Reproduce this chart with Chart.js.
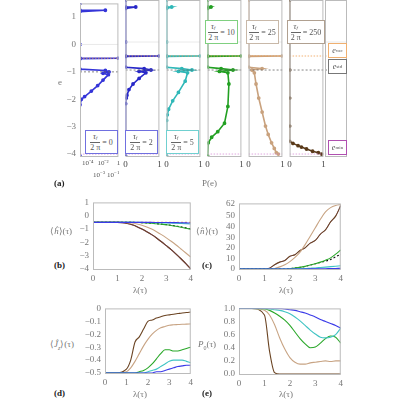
<!DOCTYPE html>
<html><head><meta charset="utf-8">
<script src="https://cdn.jsdelivr.net/npm/chart.js@4"></script>
<style>
body{margin:0;width:400px;height:400px;background:#fff;position:relative;overflow:hidden;font-family:"Liberation Serif",serif}
canvas{position:absolute}
.t{position:absolute;font-size:9px;color:#777;white-space:nowrap}
.b{position:absolute;font-weight:bold;font-size:9px;color:#222}
.box{position:absolute;border:1px solid;background:#fff;font-size:8px;color:#555;display:flex;align-items:center;justify-content:center;white-space:nowrap}
.fr{display:inline-block;text-align:center;line-height:9px;margin-right:2px;font-style:italic}
.fr .n{display:block;border-bottom:1px solid #666;padding:0 1px}
.fr .d{display:block;font-style:normal}
</style></head><body>
<script>
// ---- panel (a): energy distributions P(e) ----
const colNames = ['0', '2', '5', '10', '25', '250'];
const colColors = ['#3535d8', '#2828c8', '#30b8b8', '#22a022', '#c9a27e', '#5a3a1a'];
const colE = [
  [1.5, 1.25, 1.25, 1.2, 0.0, -0.5, -0.5, -0.52, -0.9, -0.95, -1.0, -1.05, -1.1, -1.3, -1.5, -1.7, -1.9, -2.0, -2.2, -4.07],
  [1.5, 1.25, 1.25, 1.2, 0.0, -0.5, -0.5, -0.52, -0.9, -0.95, -1.0, -1.05, -1.1, -1.3, -1.5, -1.7, -1.9, -2.0, -2.2, -4.07],
  [1.5, 1.25, 1.25, 1.2, 0.0, -0.5, -0.5, -0.52, -0.9, -0.95, -1.0, -1.05, -1.1, -1.4, -1.8, -2.1, -2.4, -2.6, -2.8, -4.07],
  [1.5, 1.25, 1.25, 1.2, 0.0, -0.5, -0.5, -0.52, -0.9, -0.95, -1.0, -1.05, -1.1, -1.5, -2.3, -2.9, -3.2, -3.4, -3.6, -4.07],
  [1.5, 0.0, -0.5, -0.5, -0.52, -0.9, -0.95, -1.0, -1.1, -1.5, -2.0, -2.5, -3.0, -3.3, -3.6, -3.8, -3.95, -4.0],
  [1.5, 0.0, -1.0, -2.0, -3.0, -3.55, -3.62, -3.7, -3.75, -3.82, -3.9, -3.95, -4.0]
];
const colP = [
  [1e-5, 1e-5, 0.02, 1e-5, 1e-5, 1e-5, 1, 1e-5, 1e-5, 0.02, 0.06, 0.01, 0.05, 0.01, 2e-3, 3e-4, 4e-5, 1.5e-5, 1e-5, 1e-5],
  [0, 0, 0.3, 0, 0, 0, 1, 0, 0, 0.55, 0.75, 0.4, 0.6, 0.4, 0.22, 0.1, 0.04, 0.02, 0, 0],
  [0, 0, 0.15, 0, 0, 0, 1, 0, 0, 0.45, 0.75, 0.35, 0.62, 0.55, 0.35, 0.18, 0.06, 0.02, 0, 0],
  [0, 0, 0.1, 0, 0, 0, 1, 0, 0, 0.4, 0.75, 0.35, 0.6, 0.63, 0.6, 0.5, 0.3, 0.12, 0.02, 0],
  [0, 0, 0, 1, 0, 0, 0.4, 0.1, 0.17, 0.22, 0.3, 0.4, 0.5, 0.58, 0.68, 0.76, 0.82, 0.88],
  [0, 0, 0, 0, 0, 0, 0.1, 0.25, 0.35, 0.5, 0.68, 0.85, 0.95]
];
const eTicks = [1, 0, -1, -2, -3, -4];
const logTicks = [1e-4, 1e-2, 1];
const refE = { vac: -0.5, std: -1.0, min: -4.0, zero: 0 };

// ---- panels (b)-(e): vs lambda(tau) ----
const lam = [0, 0.5, 1, 1.2, 1.4, 1.6, 1.8, 2, 2.2, 2.4, 2.6, 2.8, 3, 3.2, 3.4, 3.6, 3.8, 4];
const hPurple = [-0.5, -0.5, -0.5, -0.52, -0.58, -0.68, -0.82, -1.0, -1.2, -1.42, -1.67, -1.95, -2.25, -2.55, -2.88, -3.23, -3.6, -4.0];
const hTan = [-0.5, -0.5, -0.5, -0.5, -0.52, -0.55, -0.62, -0.72, -0.84, -1.0, -1.2, -1.42, -1.66, -1.92, -2.2, -2.5, -2.8, -3.1];
const hGreen = [-0.5, -0.5, -0.5, -0.5, -0.5, -0.5, -0.51, -0.52, -0.54, -0.57, -0.6, -0.64, -0.68, -0.73, -0.79, -0.86, -0.94, -1.03];
const hBlack = [-0.5, -0.5, -0.5, -0.5, -0.5, -0.5, -0.51, -0.52, -0.54, -0.56, -0.59, -0.63, -0.67, -0.72, -0.78, -0.84, -0.91, -0.99];
const hCyan = [-0.5, -0.5, -0.5, -0.5, -0.5, -0.5, -0.5, -0.5, -0.51, -0.51, -0.52, -0.53, -0.54, -0.55, -0.56, -0.58, -0.6, -0.62];
const hBlue = [-0.5, -0.5, -0.5, -0.5, -0.5, -0.5, -0.5, -0.5, -0.5, -0.5, -0.51, -0.51, -0.51, -0.52, -0.52, -0.53, -0.54, -0.55];
const hVac = [-0.5, -0.5, -0.5, -0.5, -0.5, -0.5, -0.5, -0.5, -0.5, -0.5, -0.5, -0.5, -0.5, -0.5, -0.5, -0.5, -0.5, -0.5];

const nPurple = [0, 0, 0, 0.8, 4, 6.5, 8, 12, 13.5, 17.5, 20, 24.5, 27, 33, 37, 44.5, 50, 60];
const nTan = [0, 0, 0, 0, 0.5, 2, 4, 7, 11, 16, 23, 31, 39, 47, 54, 58, 60, 61];
const nGreen = [0, 0, 0, 0, 0, 0, 0, 0.3, 0.8, 1.5, 2.5, 3.7, 5, 6.5, 8.3, 10.5, 14, 18];
const nBlack = [0, 0, 0, 0, 0, 0, 0, 0.3, 0.8, 1.5, 2.5, 3.7, 5, 6.2, 7.5, 9, 11.5, 14];
const nCyan = [0, 0, 0, 0, 0, 0, 0, 0, 0.1, 0.2, 0.4, 0.7, 1.0, 1.4, 1.8, 2.2, 2.6, 3];
const nBlue = [0, 0, 0, 0, 0, 0, 0, 0, 0, 0, 0.05, 0.1, 0.15, 0.2, 0.3, 0.4, 0.5, 0.6];

const jBrown = [-0.5, -0.5, -0.47, -0.4, -0.26, -0.22, -0.16, -0.1, -0.09, -0.075, -0.065, -0.055, -0.05, -0.045, -0.04, -0.035, -0.032, -0.028];
const jTan = [-0.5, -0.5, -0.49, -0.46, -0.41, -0.35, -0.29, -0.24, -0.2, -0.17, -0.15, -0.14, -0.13, -0.127, -0.125, -0.123, -0.122, -0.12];
const jGreen = [-0.5, -0.5, -0.5, -0.5, -0.5, -0.49, -0.48, -0.46, -0.43, -0.39, -0.35, -0.32, -0.32, -0.33, -0.33, -0.32, -0.31, -0.3];
const jCyan = [-0.5, -0.5, -0.5, -0.5, -0.5, -0.5, -0.5, -0.49, -0.48, -0.47, -0.45, -0.43, -0.41, -0.4, -0.4, -0.4, -0.41, -0.42];
const jBlue = [-0.5, -0.5, -0.5, -0.5, -0.5, -0.5, -0.5, -0.5, -0.5, -0.49, -0.49, -0.48, -0.47, -0.46, -0.45, -0.445, -0.44, -0.44];

const pBrown = [1, 1, 0.9, 0.35, 0.02, 0, 0, 0, 0, 0, 0, 0, 0, 0, 0, 0, 0, 0];
const pTan = [1, 1, 0.97, 0.9, 0.75, 0.55, 0.38, 0.25, 0.18, 0.15, 0.15, 0.17, 0.18, 0.19, 0.2, 0.19, 0.2, 0.2];
const pGreen = [1, 1, 0.99, 0.97, 0.93, 0.88, 0.82, 0.74, 0.64, 0.54, 0.46, 0.4, 0.41, 0.47, 0.54, 0.58, 0.56, 0.47];
const pCyan = [1, 1, 1, 0.99, 0.98, 0.97, 0.95, 0.92, 0.87, 0.81, 0.74, 0.67, 0.61, 0.56, 0.55, 0.56, 0.6, 0.7];
const pBlue = [1, 1, 1, 1, 1, 1, 0.99, 0.98, 0.97, 0.95, 0.93, 0.9, 0.87, 0.83, 0.8, 0.77, 0.74, 0.7];

const C = { blue: '#3a3ae8', cyan: '#40c4c4', green: '#2aa82a', tan: '#c8a484', brown: '#6b4423', purple: '#8a4a9a', black: '#111', orange: '#f0a050' };
const tickFont = { family: 'Liberation Serif', size: 9 };
const tickColor = '#777';
const noGrid = { display: false, drawTicks: false };

// frame around the plot area, Mathematica style
const framePlugin = {
  id: 'frame',
  afterDraw(chart) {
    const a = chart.chartArea, ctx = chart.ctx;
    ctx.save(); ctx.strokeStyle = '#bbb'; ctx.lineWidth = 1;
    ctx.strokeRect(a.left + 0.5, a.top + 0.5, a.right - a.left - 1, a.bottom - a.top);
    ctx.restore();
  }
};

function place(plotL, plotT, plotW, plotH, yw, xh, cfg) {
  const padT = 6, padR = 4;
  const cv = document.createElement('canvas');
  const w = yw + plotW + padR, h = padT + plotH + xh;
  cv.style.left = (plotL - yw) + 'px'; cv.style.top = (plotT - padT) + 'px';
  cv.style.width = w + 'px'; cv.style.height = h + 'px';
  cv.width = w; cv.height = h;
  document.body.appendChild(cv);
  cfg.options.responsive = false;
  cfg.options.animation = false;
  cfg.options.layout = { padding: { top: padT, right: padR, left: 0, bottom: 0 } };
  cfg.options.plugins = { legend: { display: false }, tooltip: { enabled: false } };
  const sx = cfg.options.scales.x, sy = cfg.options.scales.y;
  sx.afterFit = s => { s.height = xh; };
  sy.afterFit = s => { s.width = yw; };
  cfg.plugins = [framePlugin];
  return new Chart(cv.getContext('2d'), cfg);
}

function line(xs, ys, color, extra) {
  return Object.assign({ data: xs.map((x, i) => ({ x, y: ys[i] })), borderColor: color, borderWidth: 1.1, pointRadius: 0, showLine: true, fill: false, cubicInterpolationMode: 'monotone' }, extra || {});
}
function hline(v, x0, x1, color, dash) {
  return { data: [{ x: x0, y: v }, { x: x1, y: v }], borderColor: color, borderWidth: 0.8, borderDash: dash, pointRadius: 0, showLine: true };
}

// panel (a) columns
const colLeft = [80, 120, 161, 202, 243, 284, 325];
for (let c = 0; c < 7; c++) {
  const isLog = c === 0, last = c === 6;
  const xmin = isLog ? 1e-5 : 0, xmax = 1;
  const w = (c < 6 ? colLeft[c + 1] : 347) - colLeft[c];
  const ds = [
    hline(refE.zero, xmin, xmax, '#e4e4e4', []),
    hline(refE.vac, xmin, xmax, '#f0a050', [1.5, 1.5]),
    hline(refE.std, xmin, xmax, '#666', [2, 2]),
    hline(refE.min, xmin, xmax, '#d890d8', [1.5, 1.5])
  ];
  if (!last) {
    ds.push({ data: colE[c].map((e, i) => ({ x: colP[c][i], y: e })), borderColor: colColors[c], backgroundColor: colColors[c], borderWidth: 1.6, pointRadius: 1.1, showLine: true, tension: 0 });
  }
  place(colLeft[c], 0, w, 156, c === 0 ? 24 : 0, 14, {
    type: 'scatter',
    data: { datasets: ds },
    options: {
      scales: {
        x: isLog
          ? { type: 'logarithmic', min: xmin, max: xmax, grid: noGrid, border: { display: false }, afterBuildTicks: s => { s.ticks = logTicks.map(v => ({ value: v })); }, ticks: { autoSkip: false, font: { family: 'Liberation Serif', size: 7 }, color: '#555', padding: 3, maxRotation: 0, callback: v => v === 1 ? '1' : '10' + (v === 1e-4 ? '⁻⁴' : '⁻²') } }
          : { type: 'linear', min: xmin, max: xmax, display: !last, grid: noGrid, border: { display: false }, afterBuildTicks: s => { s.ticks = [{ value: 0 }, { value: 1 }]; }, ticks: { autoSkip: false, font: tickFont, color: '#444', padding: 3, maxRotation: 0 } },
        y: { min: -4.07, max: 1.5, display: c === 0, grid: noGrid, border: { display: false }, afterBuildTicks: s => { s.ticks = eTicks.map(v => ({ value: v })); }, ticks: { autoSkip: false, font: tickFont, color: tickColor, padding: 4, callback: v => v < 0 ? '−' + (-v) : '' + v } }
      }
    }
  });
}

// panels (b)-(e)
function lamChart(L, T, W, H, yw, ymin, ymax, step, ds, fmt) {
  return place(L, T, W, H, yw, 16, {
    type: 'scatter',
    data: { datasets: ds },
    options: {
      scales: {
        x: { min: 0, max: 4, grid: noGrid, border: { display: false }, ticks: { autoSkip: false, stepSize: 1, font: tickFont, color: tickColor, padding: 4, maxRotation: 0 } },
        y: { min: ymin, max: ymax, grid: noGrid, border: { display: false }, ticks: { autoSkip: false, stepSize: step, font: tickFont, color: tickColor, padding: 4, callback: fmt } }
      }
    }
  });
}
const neg = v => (v < 0 ? '−' : '') + Math.abs(v);
lamChart(93, 199, 100, 70, 22, -4, 1, 1, [
  line(lam, hBlue, C.blue), line(lam, hCyan, C.cyan), line(lam, hGreen, C.green),
  line(lam, hBlack, C.black, { borderDash: [2, 2] }), line(lam, hTan, C.tan),
  line(lam, hPurple, C.brown), line(lam, hPurple, C.purple), line(lam, hVac, C.orange, { borderDash: [2, 2] })
], neg);
lamChart(239, 200, 104, 69, 22, 0, 62, 10, [
  line(lam, nBlue, C.blue), line(lam, nCyan, C.cyan), line(lam, nGreen, C.green),
  line(lam, nBlack, C.black, { borderDash: [2, 2] }), line(lam, nTan, C.tan),
  line(lam, nPurple, C.brown, { cubicInterpolationMode: 'default', tension: 0.3 }), line(lam, nPurple, C.purple, { borderWidth: 0.7, cubicInterpolationMode: 'default', tension: 0.3 })
], v => v);
lamChart(105, 305, 88, 68, 30, -0.5, 0, 0.1, [
  line(lam, jBlue, C.blue), line(lam, jCyan, C.cyan), line(lam, jGreen, C.green),
  line(lam, jTan, C.tan), line(lam, jBrown, C.brown)
], v => neg(Number(v).toFixed(1)));
lamChart(239, 305, 104, 69, 22, 0, 1, 0.2, [
  line(lam, pBlue, C.blue), line(lam, pCyan, C.cyan), line(lam, pGreen, C.green),
  line(lam, pTan, C.tan), line(lam, pBrown, C.brown)
], v => Number(v).toFixed(1));

// text overlays
function txt(cls, x, y, html, style) {
  const d = document.createElement('div'); d.className = cls;
  d.style.left = x + 'px'; d.style.top = y + 'px'; d.innerHTML = html;
  if (style) Object.assign(d.style, style);
  document.body.appendChild(d);
}
const frac = '<span class="fr"><span class="n">τ<span style="font-size:5px">f</span></span><span class="d">2 π</span></span>';
const boxPos = [[85, 130], [125, 130], [166, 130], [205, 20], [246, 20], [287, 20]];
const boxCol = ['#7070e0', '#7070e0', '#70d0d0', '#80d080', '#c8b8a8', '#b0a090'];
boxPos.forEach((p, i) => txt('box', p[0], p[1], frac + '<span>= ' + colNames[i] + '</span>', { width: (i === 5 ? 36 : 31) + 'px', height: '22px', borderColor: boxCol[i] }));
txt('box', 328, 43, '<i>e</i><sub style="font-size:5px">vac</sub>', { width: '17px', height: '13px', borderColor: '#f0b070' });
txt('box', 328, 59, '<i>e</i><sub style="font-size:5px">std</sub>', { width: '17px', height: '13px', borderColor: '#777' });
txt('box', 328, 140, '<i>e</i><sub style="font-size:5px">min</sub>', { width: '17px', height: '13px', borderColor: '#b050b0' });
txt('t', 93, 170, '10<sup style="font-size:5px">−3</sup> 10<sup style="font-size:5px">−1</sup>', { fontSize: '7px', color: '#555' });
txt('t', 58, 77, 'e', {});
txt('b', 54, 178, '(a)');
txt('t', 202, 178, 'P(e)');
txt('b', 54, 260, '(b)');
txt('t', 133, 285, 'λ(τ)');
txt('b', 202, 260, '(c)');
txt('t', 279, 285, 'λ(τ)');
txt('b', 54, 388, '(d)');
txt('t', 133, 389, 'λ(τ)');
txt('b', 202, 388, '(e)');
txt('t', 279, 389, 'λ(τ)');
txt('t', 50, 226, '⟨<i>ĥ</i>⟩(τ)');
txt('t', 196, 226, '⟨<i>n̂</i>⟩(τ)');
txt('t', 50, 339, '⟨<i>Ĵ<sub style="font-size:6px">z</sub></i>⟩(τ)');
txt('t', 198, 339, '<i>P</i><sub style="font-size:6px">0</sub>(τ)');
</script>
</body></html>
